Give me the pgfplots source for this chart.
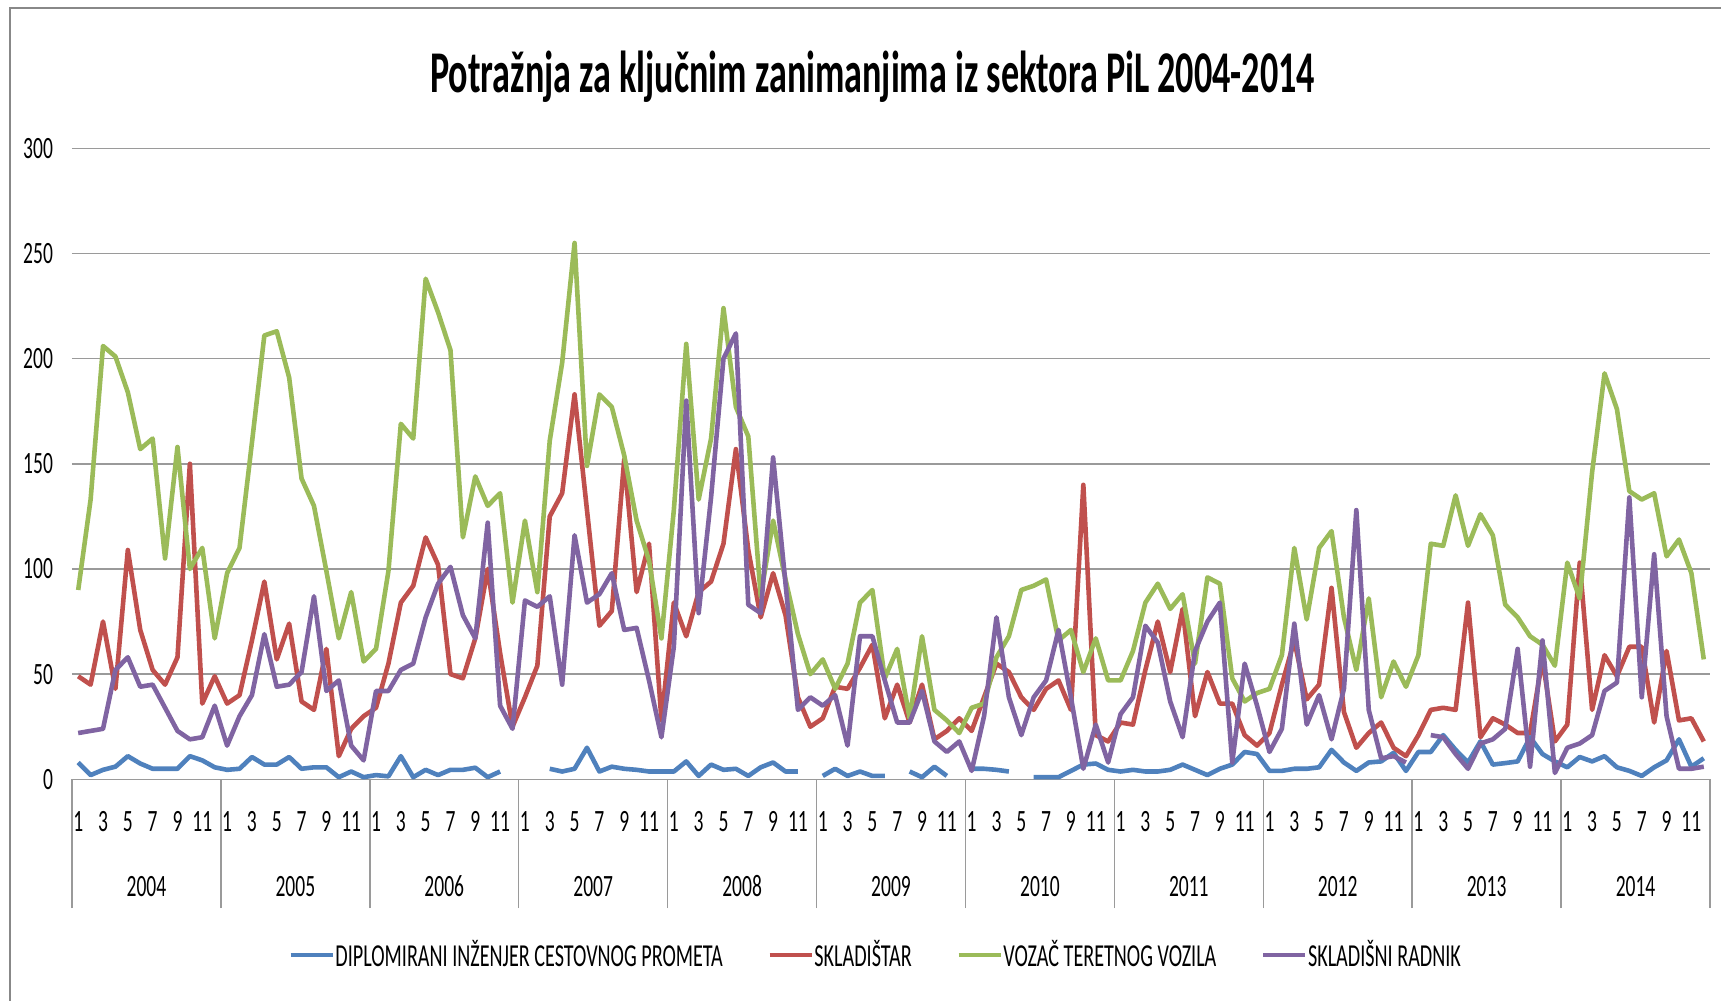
\documentclass[border=0pt]{standalone}
\usepackage{fontspec}
\setmainfont{Carlito}[FakeStretch=0.63]
\newfontfamily\titlefont{Carlito}[FakeStretch=0.61]
\usepackage{pgfplots}
\pgfplotsset{compat=1.18}
\usepackage{pgfplotstable}
\definecolor{dipl}{HTML}{4F81BD}
\definecolor{skl}{HTML}{C0504D}
\definecolor{voz}{HTML}{9BBB59}
\definecolor{rad}{HTML}{8064A2}
\definecolor{gridc}{HTML}{9A9A9A}
\definecolor{framec}{HTML}{888888}

% m = month index from Jan 2004; nan = no value
\pgfplotstableread{
m dipl skl voz rad
1 8 49 90 22
2 2 45 133 23
3 4.5 75 206 24
4 6 43 201 52
5 11 109 184 58
6 7.5 71 157 44
7 5 52 162 45
8 5 45 105 34
9 5 58 158 23
10 11 150 100 19
11 9 36 110 20
12 5.7 49 67 35
13 4.5 36 98 16
14 5 40 110 30
15 10.6 66 160 40
16 7 94 211 69
17 7 57 213 44
18 10.6 74 191 45
19 5 37 143 51
20 5.7 33 130 87
21 5.7 62 99 42
22 1 11 67 47
23 3.7 24 89 16
24 1 30 56 9
25 2 34 62 42
26 1.4 55 99 42
27 11 84 169 52
28 1 92 162 55
29 4.5 115 238 77
30 2 102 222 93
31 4.5 50 204 101
32 4.5 48 115 78
33 5.5 67 144 67
34 1 100 130 122
35 3.7 60 136 35
36 nan 25 84 24
37 nan 39 123 85
38 nan 54 89 82
39 5 125 161 87
40 3.7 136 198 45
41 5 183 255 116
42 15 128 149 84
43 3.7 73 183 88
44 6 80 177 98
45 5 152 154 71
46 4.5 89 123 72
47 3.7 112 104 47
48 3.7 28 67 20
49 3.7 84 128 63
50 8.5 68 207 180
51 1.6 89 133 79
52 7 94 162 134
53 4.5 112 224 200
54 5 157 177 212
55 1.6 109 163 83
56 5.7 77 87 79
57 8 98 123 153
58 3.7 78 95 93
59 3.7 39 69 33
60 nan 25 50 39
61 1.6 29 57 35
62 5 44 43 40
63 1.6 43 55 16
64 3.7 53 84 68
65 1.6 64 90 68
66 1.6 29 48 47
67 nan 45 62 27
68 3.7 27 29 27
69 1 45 68 42
70 6 19 33 18
71 1.6 23 28 13
72 nan 29 22 18
73 5 23 34 4
74 5 39 36 30
75 4.5 55 58 77
76 3.7 51 68 39
77 nan 39 90 21
78 1 33 92 39
79 1 43 95 47
80 1 47 66 71
81 4 33 71 39
82 7 140 51 5
83 7.5 21 67 26
84 4.5 18 47 8
85 3.7 27 47 31
86 4.5 26 61 39
87 3.7 52 84 73
88 3.7 75 93 65
89 4.5 51 81 37
90 7 81 88 20
91 4.5 30 55 61
92 2 51 96 75
93 5 36 93 84
94 7 36 48 8
95 13 21 37 55
96 12 16 41 35
97 4 22 43 13
98 4 45 59 24
99 5 66 110 74
100 5 38 76 26
101 5.7 45 110 40
102 14 91 118 19
103 8 32 77 43
104 4 15 52 128
105 8 22 86 33
106 8.5 27 39 10
107 12.6 15 56 11
108 4 11 44 8
109 13 21 59 nan
110 13 33 112 21
111 21 34 111 20
112 14 33 135 12
113 8 84 111 5
114 18 20 126 17
115 7 29 116 19
116 7.7 26 83 24
117 8.5 22 77 62
118 20 22 68 6
119 12 57 64 66
120 8.5 18 54 3
121 5.7 26 103 15
122 10.6 103 86 17
123 8.5 33 146 21
124 11 59 193 42
125 5.7 49 176 46
126 4 63 137 134
127 1.6 63 133 39
128 5.7 27 136 107
129 9 61 106 30
130 19 28 114 5
131 6 29 98 5
132 10 18 57 6
}\pildata

\newcommand{\ticksize}{\fontsize{15.5}{18}\selectfont}

\begin{document}
\begin{tikzpicture}
\useasboundingbox (-36pt,-110.85pt) rectangle (824.5pt,389.65pt);
\draw[framec, line width=1.35pt] (-31pt,-112pt) -- (-31pt,385.65pt) -- (826pt,385.65pt);
\begin{axis}[
  at={(0pt,0pt)}, anchor=south west,
  width=819pt, height=315.5pt, scale only axis,
  xmin=0.5, xmax=132.5, ymin=0, ymax=300,
  axis line style={draw=none},
  ymajorgrids, major grid style={gridc, line width=0.75pt},
  ytick={0,50,...,300},
  ytick style={draw=none},
  yticklabel style={anchor=east, inner sep=0pt, xshift=-9.35pt},
  xtick={1,3,...,131},
  xticklabels={1,3,5,7,9,11,1,3,5,7,9,11,1,3,5,7,9,11,1,3,5,7,9,11,1,3,5,7,9,11,1,3,5,7,9,11,1,3,5,7,9,11,1,3,5,7,9,11,1,3,5,7,9,11,1,3,5,7,9,11,1,3,5,7,9,11},
  xtick style={draw=none},
  xtick pos=bottom,
  xticklabel style={anchor=base, yshift=-26.2pt},
  extra x ticks={0.5,12.5,...,132.5},
  extra x tick labels={},
  extra x tick style={xtick style={draw=gridc, line width=0.75pt}, major tick length=64.35pt, tick align=outside},
  tick label style={font=\ticksize},
  /pgf/number format/assume math mode=true,
  unbounded coords=jump,
  clip=false,
  title={\titlefont\fontsize{29.6}{34}\selectfont\bfseries Potražnja za ključnim zanimanjima iz sektora PiL 2004-2014},
  title style={at={(0.4888,1.0698)}, anchor=base, inner sep=0pt},
  legend columns=4,
  legend style={at={(0.4902,-0.2785)}, anchor=center, draw=none, fill=none,
    font=\fontsize{16}{19}\selectfont,
    /tikz/every even column/.append style={column sep=22pt},
    nodes={inner xsep=0.3pt}},
  legend image code/.code={\draw[#1, line width=2.2pt] (0pt,0pt) -- (21pt,0pt);},
  every axis plot/.append style={line width=2.3pt, line join=round},
]
\addplot[dipl] table[x=m, y=dipl] {\pildata};
\addlegendentry{DIPLOMIRANI INŽENJER CESTOVNOG PROMETA}
\addplot[skl] table[x=m, y=skl] {\pildata};
\addlegendentry{SKLADIŠTAR}
\addplot[voz] table[x=m, y=voz] {\pildata};
\addlegendentry{VOZAČ TERETNOG VOZILA}
\addplot[rad] table[x=m, y=rad] {\pildata};
\addlegendentry{SKLADIŠNI RADNIK}
\pgfplotsinvokeforeach{0,...,10}{
  \node[anchor=base, font=\ticksize, yshift=-58.7pt] at (axis cs:{6.5+12*#1},0) {\the\numexpr2004+#1\relax};
}
\end{axis}
\end{tikzpicture}
\end{document}
